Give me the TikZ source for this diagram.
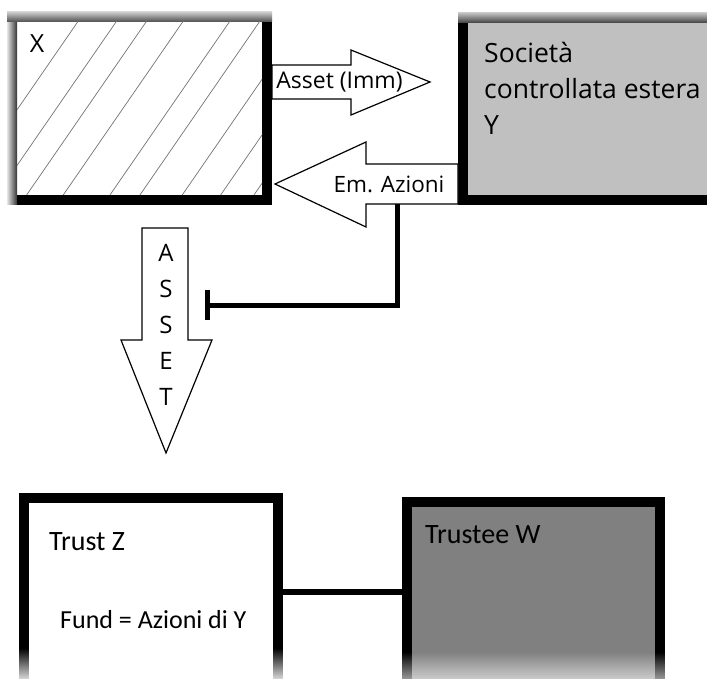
\documentclass[tikz,border=0pt]{standalone}
\usepackage{fontspec}
\setmainfont{Open Sans}
\newfontfamily\calfont{Carlito}
\usetikzlibrary{arrows.meta,fadings,calc}
\tikzfading[name=fadedown, top color=transparent!100, bottom color=transparent!0]
\definecolor{lightbox}{RGB}{192,192,192}
\definecolor{darkbox}{RGB}{128,128,128}

\begin{document}
\begin{tikzpicture}[x=1pt,y=-1pt,
  frame/.style={draw=black, line width=10pt, rectangle, inner sep=0pt},
  blockarrow/.style={draw=black, fill=white, line width=1.2pt, line join=miter},
  link/.style={line width=6pt},
  inhib/.style={line width=5pt, -{Bar[width=30pt]}},
  hatch/.style={draw=black!55, line width=0.7pt},
  lbl/.style={inner sep=0pt, font=\fontsize{22.5}{26}\selectfont},
  sansline/.style={anchor=base west, inner sep=0pt, font=\fontsize{26.5}{36}\selectfont},
  calline/.style={anchor=base west, inner sep=0pt, font=\calfont\fontsize{28}{34}\selectfont}
]
\useasboundingbox (0,0) rectangle (707,679);
\fill[white] (0,0) rectangle (707,679);

% --- boxes ---
\node[frame, fill=white, minimum width=255pt, minimum height=183pt] (X) at (139.5,108.5) {};
\node[frame, fill=lightbox, minimum width=249pt, minimum height=182pt] (Y) at (587.5,109) {};
\node[frame, fill=white, minimum width=254pt, minimum height=186pt] (Z) at (151,591) {};
\node[frame, fill=darkbox, minimum width=253pt, minimum height=182pt] (W) at (533.5,593) {};

% soft edges of the upper boxes
\shade[left color=black!10, right color=black!80] (7,12) rectangle (17,205);
\shade[top color=black!20, bottom color=black!70] (7,12) rectangle (272,22);
\shade[top color=black!25, bottom color=black!75] (458,13) rectangle (707,23);

% hatching of X
\begin{scope}
  \clip (17,22) rectangle (262,195);
  \foreach \t in {78.3,116.7,146.7,183.3,230,260,302.3,340.7,374}
    \draw[hatch] (\t,21) -- ++(-124.2,180);
\end{scope}

% --- box texts ---
\node[inner sep=0pt, font=\fontsize{25}{30}\selectfont] (xl) at (37,44) {X};
\node[sansline] (y1) at (484,63) {Società};
\node[sansline] (y2) at (484,99) {controllata estera};
\node[sansline] (y3) at (484,135) {Y};
\node[calline] (zt) at (49,550) {Trust Z};
\node[calline, font=\calfont\fontsize{26}{30}\selectfont] (zf) at (60,628) {Fund = Azioni di Y};
\node[calline] (wt) at (425,543) {Trustee W};

% --- block arrows ---
\draw[blockarrow] (X.east |- 0,65) -- (351,65) -- (351,50) -- (430,82)
  -- (351,115) -- (351,99) -- (X.east |- 0,99) -- cycle;
\node[lbl, font=\fontsize{23}{26}\selectfont] (assetlbl) at (339.5,82) {Asset (Imm)};

\draw[blockarrow] (Y.west |- 0,164) -- (366,164) -- (366,142) -- (275,184)
  -- (366,227) -- (366,204) -- (Y.west |- 0,204) -- cycle;
\node[lbl] (emlbl) at (389,184) {Em. Azioni};

\draw[blockarrow] (142,228) -- (188,228) -- (188,340) -- (212,340)
  -- (166,453) -- (121,340) -- (142,340) -- cycle;
\node[inner sep=0pt, align=center, font=\fontsize{24}{36}\selectfont] (assetv) at (166,325) {A\\S\\S\\E\\T};

% --- blocking connector ---
\coordinate (inhstart) at (397,204);
\coordinate (inhend) at (205,305);
\draw[inhib] (inhstart) |- (inhend);

% --- trust to trustee ---
\coordinate (zw) at (0,592);
\draw[link] (Z.east |- zw) -- (W.west |- zw);

% fading lower edge
\fill[white, path fading=fadedown, fill opacity=0.85] (14,648) rectangle (290,679);
\fill[white, path fading=fadedown, fill opacity=0.6] (397,652) rectangle (672,679);
\end{tikzpicture}
\end{document}
